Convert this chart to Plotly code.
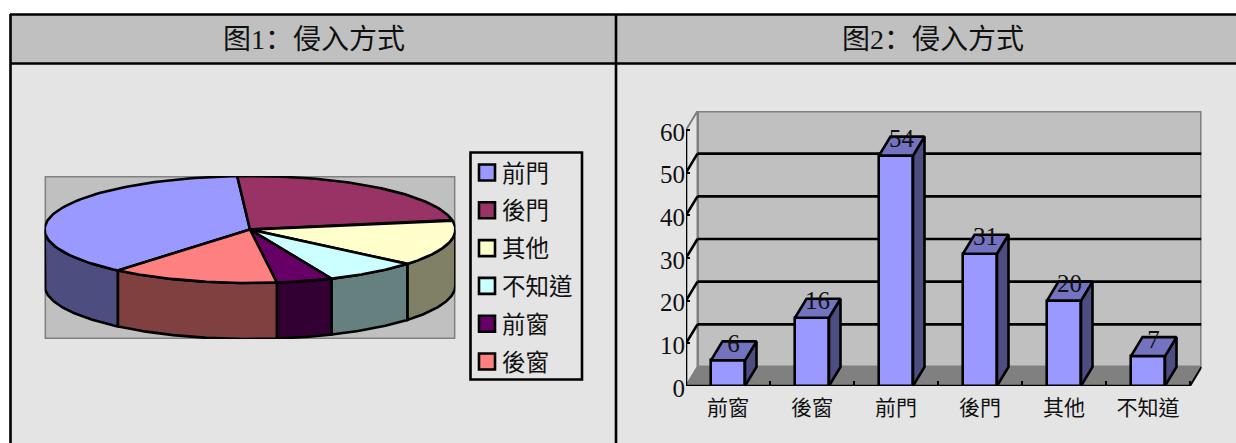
import numpy as np
import plotly.graph_objects as go

W, H = 1236, 443
SERIF = "Liberation Serif"
CJK = "Liberation Serif, Noto Sans CJK TC"
LW = 2.6

# ---------- data ----------
bar_categories = ["前窗", "後窗", "前門", "後門", "其他", "不知道"]
bar_values = [6, 16, 54, 31, 20, 7]
y_ticks = [0, 10, 20, 30, 40, 50, 60]

pie_categories = ["前門", "後門", "其他", "不知道", "前窗", "後窗"]
pie_shares = [37.9, 23.2, 13.9, 7.4, 4.4, 13.2]
pie_top_colors = ["#9999FF", "#993366", "#FFFFCC", "#CCFFFF", "#660066", "#FF8080"]
pie_side_colors = ["#4D4D80", "#4D1A33", "#808066", "#668080", "#330033", "#804040"]

titles = ["图1\uff1a侵入方式", "图2\uff1a侵入方式"]

# ---------- helpers ----------
def px(x):
    return x / W

def py(y):
    return 1 - y / H

def rect(x0, y0, x1, y1, fill, line=None, lw=0):
    return dict(type="rect", xref="paper", yref="paper", x0=px(x0), x1=px(x1),
                y0=py(y0), y1=py(y1), fillcolor=fill, layer="below",
                line=dict(color=line or fill, width=lw))

def seg(x0, y0, x1, y1, color="black", lw=LW):
    return dict(type="line", xref="paper", yref="paper", x0=px(x0), x1=px(x1),
                y0=py(y0), y1=py(y1), layer="below", line=dict(color=color, width=lw))

def dline(x0, y0, x1, y1, color="black", lw=LW):
    return dict(type="line", xref="x", yref="y", x0=x0, x1=x1, y0=y0, y1=y1,
                layer="below", line=dict(color=color, width=lw))

def dpoly(pts, fill, color, lw=2):
    path = "M " + " L ".join(f"{a},{b}" for a, b in pts) + " Z"
    return dict(type="path", xref="x", yref="y", path=path, fillcolor=fill,
                layer="below", line=dict(color=color, width=lw))

fig = go.Figure()
shapes = []
annotations = []

# ---------- table frame ----------
shapes += [
    rect(0, 0, W, H, "white"),
    rect(11, 15, W, 63, "#C0C0C0"),
    rect(11, 63, W, H, "#E4E4E4"),
]

# ---------- bar chart (3D look made from the values) ----------
PX_PER_UNIT = 256 / 60
PX_PER_CAT = 84
DX = 11.5 / PX_PER_CAT
DY = 19 / PX_PER_UNIT
BAR_W = 34 / PX_PER_CAT
n = len(bar_categories)
ymax = y_ticks[-1] + DY
xmax = n + DX

shapes.append(dpoly([(DX, DY), (xmax, DY), (xmax, ymax), (DX, ymax)], "#C0C0C0", "#808080", 3))
shapes.append(dpoly([(0, 0), (DX, DY), (DX, ymax), (0, y_ticks[-1])], "#E4E4E4", "#808080", 2))
shapes.append(dpoly([(0, 0), (DX, DY), (xmax, DY), (n, 0)], "#808080", "#808080", 1))
shapes.append(dline(n, 0, xmax, DY, "black", 2))
for v in y_ticks[1:-1]:
    shapes.append(dline(DX, v + DY, xmax, v + DY))
for v in y_ticks[1:-1]:
    shapes.append(dline(0, v, DX, v + DY))
shapes.append(dline(0, 0, 0, y_ticks[-1]))
shapes.append(dline(0, 0, n, 0))

centers = [i + 0.5 for i in range(n)]
fig.add_trace(go.Bar(x=centers, y=bar_values, width=BAR_W, marker=dict(color="#9999FF",
                     line=dict(color="black", width=LW)), cliponaxis=False,
                     hoverinfo="skip", showlegend=False, xaxis="x", yaxis="y"))
for c, v in zip(centers, bar_values):
    a, b = c - BAR_W / 2, c + BAR_W / 2
    fig.add_trace(go.Scatter(x=[b, b + DX, b + DX, b, b], y=[0, DY, v + DY, v, 0], mode="lines",
                             fill="toself", fillcolor="#4D4D80", line=dict(color="black", width=LW),
                             cliponaxis=False, hoverinfo="skip", showlegend=False, xaxis="x", yaxis="y"))
    fig.add_trace(go.Scatter(x=[a, b, b + DX, a + DX, a], y=[v, v, v + DY, v + DY, v], mode="lines",
                             fill="toself", fillcolor="#7373BF", line=dict(color="black", width=LW),
                             cliponaxis=False, hoverinfo="skip", showlegend=False, xaxis="x", yaxis="y"))
fig.add_trace(go.Scatter(x=[c + 0.065 for c in centers], y=[v + 3.4 for v in bar_values],
                         text=[str(v) for v in bar_values], mode="text", textposition="middle center",
                         textfont=dict(family=SERIF, size=25, color="#111111"), cliponaxis=False,
                         hoverinfo="skip", showlegend=False, xaxis="x", yaxis="y"))

# ---------- pie (tilted disc made from the shares) ----------
RX_PX = 205.4
TILT = 53.5 / RX_PX
DEPTH = 56 / RX_PX
START = -140.0
shapes.append(dict(type="rect", xref="x2", yref="y2", x0=-1, x1=1, y0=-TILT - DEPTH, y1=TILT,
                   fillcolor="#C0C0C0", layer="below", line=dict(color="#808080", width=3)))

total = sum(pie_shares)
bounds = [START]
for s in pie_shares:
    bounds.append(bounds[-1] + s / total * 360)

def arc(t0, t1):
    t = np.radians(np.linspace(t0, t1, 80))
    return np.sin(t), np.cos(t) * TILT

# side walls (only the front half of the disc shows)
for i in range(len(pie_shares)):
    for w0, w1 in [(-270, -90), (90, 270)]:
        lo = max(bounds[i], w0)
        hi = min(bounds[i + 1], w1)
        if hi <= lo:
            continue
        ax, ay = arc(lo, hi)
        xs = np.concatenate([ax, ax[::-1], ax[:1]])
        ys = np.concatenate([ay, ay[::-1] - DEPTH, ay[:1]])
        fig.add_trace(go.Scatter(x=xs, y=ys, mode="lines", fill="toself", fillcolor=pie_side_colors[i],
                                 line=dict(color="black", width=LW), cliponaxis=False,
                                 hoverinfo="skip", showlegend=False, xaxis="x2", yaxis="y2"))
# top faces
for i in range(len(pie_shares)):
    ax, ay = arc(bounds[i], bounds[i + 1])
    xs = np.concatenate([[0], ax, [0]])
    ys = np.concatenate([[0], ay, [0]])
    fig.add_trace(go.Scatter(x=xs, y=ys, mode="lines", fill="toself", fillcolor=pie_top_colors[i],
                             line=dict(color="black", width=LW), cliponaxis=False,
                             hoverinfo="skip", showlegend=False, xaxis="x2", yaxis="y2"))

# ---------- pie legend ----------
shapes.append(rect(470.5, 152.5, 582, 379.5, "#E4E4E4", "black", LW))
for i, (name, col) in enumerate(zip(pie_categories, pie_top_colors)):
    yc = 172.5 + i * 37.8
    shapes.append(dict(type="rect", xref="paper", yref="paper", x0=px(479), x1=px(495),
                       y0=py(yc - 8), y1=py(yc + 8), fillcolor=col, layer="below",
                       line=dict(color="black", width=LW)))
    annotations.append(dict(xref="paper", yref="paper", x=px(500), y=py(yc + 1), xanchor="left",
                            yanchor="middle", text=name, showarrow=False,
                            font=dict(family=CJK, size=23.5, color="#111111")))

# ---------- table lines and titles ----------
shapes += [
    seg(10, 14.5, W, 14.5),
    seg(10.5, 14, 10.5, H),
    seg(10, 63.5, W, 63.5),
    seg(616, 14, 616, H),
]
for t, xc in zip(titles, [314, 933]):
    annotations.append(dict(xref="paper", yref="paper", x=px(xc), y=py(39.5), xanchor="center",
                            yanchor="middle", text=t, showarrow=False,
                            font=dict(family="Liberation Serif, Noto Sans CJK SC", size=28, color="#111111")))

# ---------- layout ----------
fig.update_layout(
    width=W, height=H, autosize=False,
    margin=dict(l=0, r=0, t=0, b=0),
    paper_bgcolor="white", plot_bgcolor="rgba(0,0,0,0)",
    showlegend=False, hovermode=False, bargap=0,
    shapes=shapes, annotations=annotations,
    xaxis=dict(domain=[px(686), px(686 + PX_PER_CAT * xmax)], range=[0, xmax], anchor="y",
               automargin=False, tickmode="array", tickvals=centers, ticktext=bar_categories, ticks="",
               ticklabelstandoff=7,
               tickfont=dict(family=CJK, size=21, color="#111111"), showgrid=False,
               showline=False, zeroline=False, fixedrange=True,
               minor=dict(tickmode="array", tickvals=list(range(1, n + 1)), ticks="inside",
                          ticklen=5, tickwidth=2, tickcolor="black", showgrid=False)),
    yaxis=dict(domain=[py(386), py(386 - PX_PER_UNIT * ymax)], range=[0, ymax], anchor="x",
               automargin=False, tickmode="array", tickvals=y_ticks, ticks="inside", ticklen=4, tickwidth=2,
               ticklabelshift=2,
               tickcolor="black", tickfont=dict(family=SERIF, size=25, color="#111111"),
               showgrid=False, showline=False, zeroline=False, fixedrange=True),
    xaxis2=dict(domain=[px(250 - RX_PX), px(250 + RX_PX)], range=[-1, 1], anchor="y2",
                automargin=False, visible=False, fixedrange=True),
    yaxis2=dict(domain=[py(229.5 + 53.5 + 56), py(229.5 - 53.5)], range=[-TILT - DEPTH, TILT],
                anchor="x2", automargin=False, visible=False, fixedrange=True),
)

fig.write_html("out.html", config=dict(displayModeBar=False),
               post_script="document.body.style.margin='0';document.body.style.overflow='hidden';")
